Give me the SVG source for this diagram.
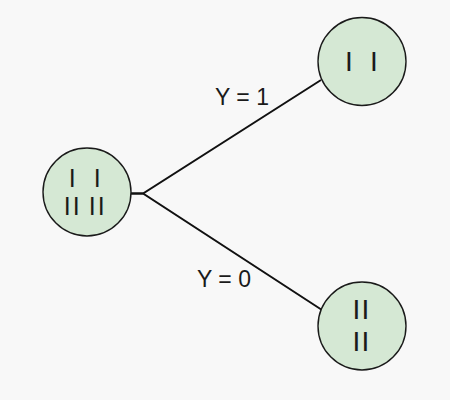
<svg xmlns="http://www.w3.org/2000/svg" width="450" height="400" viewBox="0 0 450 400">
<style>
.node{fill:#d5e8d4;stroke:#1a1a1a;stroke-width:1.4}
.lbl{font-family:"Liberation Sans",Arial,sans-serif;fill:#1a1a1a}
.edge{fill:none;stroke:#111;stroke-width:2}
</style>
<rect width="450" height="400" fill="#f8f8f8"/>
<g id="connectors">
<path class="edge" d="M131 193.5 H143 L321 80"/>
<path class="edge" d="M131 193.5 H143 L322 310"/>
<text class="lbl" x="215" y="105" font-size="23">Y = 1</text>
<text class="lbl" x="197" y="287" font-size="23">Y = 0</text>
</g>
<g id="node-root">
<circle class="node" cx="87" cy="192" r="44"/>
<text class="lbl" font-size="25" text-anchor="middle" x="72.3 85 97.3" y="186.5">I I</text>
<text class="lbl" font-size="25" text-anchor="middle" x="67.3 76.3 84.3 92.3 101.3" y="214.5">II II</text>
</g>
<g id="node-y1">
<circle class="node" cx="362" cy="61.5" r="44"/>
<text class="lbl" font-size="28" text-anchor="middle" x="349 361.5 374" y="71">I I</text>
</g>
<g id="node-y0">
<circle class="node" cx="362" cy="326" r="44"/>
<text class="lbl" font-size="28" text-anchor="middle" x="356.5 365.5" y="319">II</text>
<text class="lbl" font-size="28" text-anchor="middle" x="356.5 365.5" y="351">II</text>
</g>
</svg>
